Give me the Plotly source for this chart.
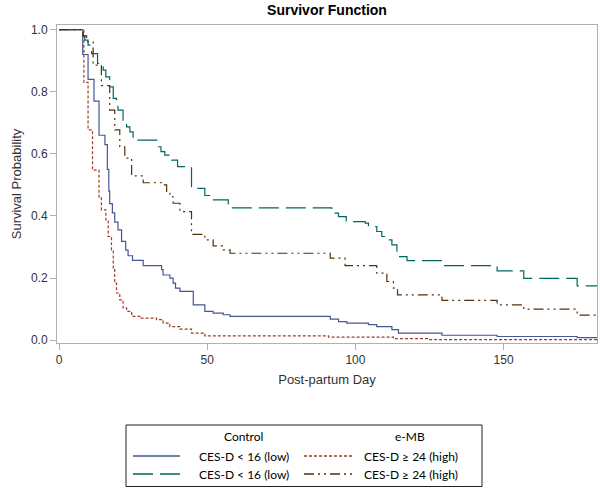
import plotly.graph_objects as go

# ---------------- data ----------------
ctrl_low_days = [0, 8.0, 9.8, 11.8, 13.5, 15.5, 16.3, 16.8, 17.1, 18.0, 18.8, 19.9, 21.1, 22.5,
                 23.3, 24.8, 28.4, 34.6, 35.1, 37.4, 38.5, 39.3, 40.8, 45.3, 49.2, 52.0, 55.4,
                 57.7, 91.5, 94.3, 97.1, 104.4, 107.2, 112.3, 114.5, 129.2, 147.8, 174.8, 182]
ctrl_low_surv = [1.0, 0.92, 0.84, 0.77, 0.66, 0.63, 0.55, 0.48, 0.44, 0.41, 0.38, 0.355, 0.318, 0.29,
                 0.272, 0.257, 0.24, 0.227, 0.21, 0.20, 0.184, 0.168, 0.157, 0.114, 0.093, 0.087, 0.082,
                 0.077, 0.068, 0.060, 0.055, 0.050, 0.044, 0.034, 0.023, 0.016, 0.012, 0.008, 0.008]

emb_high_days = [0, 8.4, 9.8, 11.3, 13.5, 14.3, 15.8, 16.6, 17.7, 18.3, 18.8, 19.4, 20.5, 21.6,
                 22.8, 24.5, 27.3, 32.9, 35.1, 37.4, 40.8, 44.7, 49.2, 90.9, 112.8, 125.0, 182]
emb_high_surv = [1.0, 0.83, 0.677, 0.548, 0.458, 0.42, 0.387, 0.334, 0.291, 0.227, 0.184, 0.152, 0.13, 0.104,
                 0.093, 0.077, 0.071, 0.066, 0.055, 0.044, 0.036, 0.023, 0.014, 0.010, 0.005, 0.002, 0.002]

ctrl_low2_days = [0, 8.1, 8.7, 9.8, 11.0, 13.0, 13.8, 14.9, 15.8, 17.1, 18.3, 19.4, 19.9, 21.6,
                  22.8, 23.9, 25.0, 26.4, 33.0, 34.4, 35.7, 38.0, 40.0, 44.7, 49.2, 51.5, 57.1,
                  92.0, 94.3, 96.9, 103.3, 104.4, 107.2, 108.9, 110.6, 112.3, 114.0, 117.4, 129.2,
                  147.8, 156.8, 174.8, 182]
ctrl_low2_surv = [1.0, 0.979, 0.966, 0.95, 0.923, 0.891, 0.88, 0.87, 0.848, 0.816, 0.779, 0.757, 0.741, 0.704,
                  0.687, 0.671, 0.655, 0.644, 0.623, 0.607, 0.596, 0.58, 0.559, 0.489, 0.466, 0.452, 0.426,
                  0.409, 0.398, 0.382, 0.377, 0.366, 0.35, 0.334, 0.323, 0.307, 0.269, 0.256, 0.24,
                  0.223, 0.199, 0.175, 0.175]

emb_high2_days = [0, 8.1, 9.3, 11.5, 14.3, 17.1, 18.8, 20.5, 22.2, 24.5, 28.4, 34.6, 36.3, 37.4,
                  38.5, 40.8, 44.7, 49.2, 52.0, 55.4, 57.7, 91.5, 96.5, 107.2, 110.6, 112.8, 114.2,
                  129.2, 147.8, 156.8, 174.8, 182]
emb_high2_surv = [1.0, 0.98, 0.961, 0.886, 0.82, 0.741, 0.677, 0.623, 0.586, 0.529, 0.507, 0.5, 0.473, 0.462,
                  0.441, 0.414, 0.341, 0.323, 0.304, 0.291, 0.28, 0.264, 0.24, 0.216, 0.189, 0.168, 0.146,
                  0.128, 0.114, 0.1, 0.081, 0.081]

x_ticks = [0, 50, 100, 150]
y_ticks = [0.0, 0.2, 0.4, 0.6, 0.8, 1.0]

col_header = ["Control", "e-MB"]
legend_labels = ["CES-D < 16 (low)", "CES-D \u2265 24 (high)", "CES-D < 16 (low)", "CES-D \u2265 24 (high)"]

# ---------------- styles ----------------
styles = [
    dict(color="#445694", dash="solid"),
    dict(color="#A23A2E", dash="3px,2px"),
    dict(color="#01665E", dash="20px,7px"),
    dict(color="#543005", dash="10px,4px,2px,4px,2px,4px"),
]
series = [
    (ctrl_low_days, ctrl_low_surv),
    (emb_high_days, emb_high_surv),
    (ctrl_low2_days, ctrl_low2_surv),
    (emb_high2_days, emb_high2_surv),
]

fig = go.Figure()
for (d, s), st, name in zip(series, styles, legend_labels):
    fig.add_trace(go.Scatter(x=d, y=s, mode="lines", line_shape="hv", name=name,
                             line=dict(color=st["color"], dash=st["dash"], width=1.2),
                             showlegend=False))

W, H = 600, 489
ML, MR, MT, MB = 57, 3, 25, 146
pw, ph = W - ML - MR, H - MT - MB


def px_x(px):
    return (px - ML) / pw


def px_y(py):
    return (H - MB - py) / ph


FAM = "Liberation Sans, Arial, sans-serif"
axis_font = dict(family=FAM, size=12, color="#333333")
fig.update_layout(
    width=W, height=H,
    margin=dict(l=ML, r=MR, t=MT, b=MB, pad=0),
    plot_bgcolor="white", paper_bgcolor="white",
    title=dict(text="<b>Survivor Function</b>", x=px_x(327), xref="paper", xanchor="center",
               y=1 - 10.5 / H, yref="container", yanchor="middle",
               font=dict(family=FAM, size=14, color="#000000")),
    xaxis=dict(range=[-0.68, 181.5], tickvals=x_ticks, ticktext=[str(v) for v in x_ticks],
               showgrid=False, zeroline=False, showline=True, mirror=True, linecolor="#b0b0b0",
               linewidth=1, ticks="outside", ticklen=6, tickcolor="#b0b0b0", tickfont=axis_font,
               automargin=False,
               title=dict(text="Post-partum Day", font=dict(family=FAM, size=13, color="#333333"),
                          standoff=8)),
    yaxis=dict(range=[-0.009, 1.015], tickvals=y_ticks, ticktext=[f"{v:.1f}" for v in y_ticks],
               showgrid=False, zeroline=False, showline=True, mirror=True, linecolor="#b0b0b0",
               linewidth=1, ticks="outside", ticklen=6, tickcolor="#b0b0b0", tickfont=axis_font,
               automargin=False,
               title=dict(text="Survival Probability", font=dict(family=FAM, size=13, color="#333333"),
                          standoff=6)),
)

# ---------------- manual legend ----------------
leg_font = dict(family="Lato, Open Sans, sans-serif", size=12, color="#000000")
fig.add_shape(type="rect", xref="paper", yref="paper",
              x0=px_x(126), x1=px_x(482), y0=px_y(486.5), y1=px_y(425),
              line=dict(color="#222222", width=1), fillcolor="rgba(0,0,0,0)")
fig.add_annotation(x=px_x(244), y=px_y(436), xref="paper", yref="paper", text=col_header[0],
                   showarrow=False, font=leg_font, xanchor="center", yanchor="middle")
fig.add_annotation(x=px_x(410), y=px_y(436), xref="paper", yref="paper", text=col_header[1],
                   showarrow=False, font=leg_font, xanchor="center", yanchor="middle")

rows_y = [456, 456, 474, 474]
line_x = [(133, 180), (304, 352), (133, 180), (304, 352)]
text_x = [197, 362, 197, 362]
for i, st in enumerate(styles):
    x0, x1 = line_x[i]
    fig.add_shape(type="line", xref="paper", yref="paper",
                  x0=px_x(x0), x1=px_x(x1), y0=px_y(rows_y[i]), y1=px_y(rows_y[i]),
                  line=dict(color=st["color"], dash=st["dash"], width=1.5))
    fig.add_annotation(x=px_x(text_x[i]), y=px_y(rows_y[i]), xref="paper", yref="paper",
                       text=legend_labels[i], showarrow=False, font=leg_font,
                       xanchor="left", yanchor="middle")

fig.write_html("out.html", config={"displayModeBar": False},
               post_script="document.body.style.margin='0px';")
